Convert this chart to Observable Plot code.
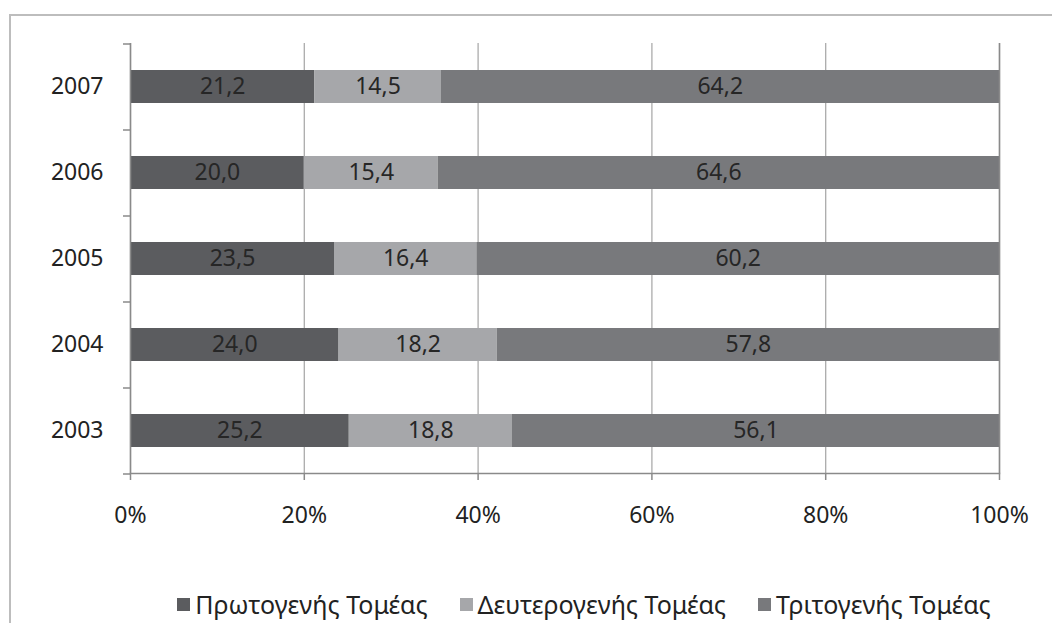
<!DOCTYPE html>
<html>
<head>
<meta charset="utf-8">
<script src="https://cdn.jsdelivr.net/npm/d3@7"></script>
<script src="https://cdn.jsdelivr.net/npm/@observablehq/plot@0.6"></script>
<style>
  html, body { margin: 0; padding: 0; background: #fff; }
  body { width: 1052px; height: 623px; position: relative; overflow: hidden; font-family: "Noto Sans", sans-serif; }
  #frame { position: absolute; left: 9px; top: 14px; width: 1100px; height: 700px; border-left: 2px solid #bdbdbd; border-top: 2px solid #bdbdbd; }
  #chart { position: absolute; left: 0; top: 0; }
  #legend { position: absolute; left: 0; width: 1168px; top: 587px; display: flex; justify-content: center; gap: 32px; font-size: 25px; color: #222; }
  #legend .item { display: flex; align-items: center; gap: 5px; }
  #legend .sw { width: 13px; height: 13px; display: inline-block; }
</style>
</head>
<body>
<div id="frame"></div>
<div id="chart"></div>
<div id="legend"></div>
<script>
const years = ["2007", "2006", "2005", "2004", "2003"];
const sectors = ["Πρωτογενής Τομέας", "Δευτερογενής Τομέας", "Τριτογενής Τομέας"];
const primary   = [21.2, 20.0, 23.5, 24.0, 25.2];
const secondary = [14.5, 15.4, 16.4, 18.2, 18.8];
const tertiary  = [64.2, 64.6, 60.2, 57.8, 56.1];
const xTicks = [0, 0.2, 0.4, 0.6, 0.8, 1];
const colors = ["#5b5c5f", "#a6a7aa", "#78797c"];

const series = [primary, secondary, tertiary];
const data = [];
years.forEach((y, i) => sectors.forEach((s, k) => data.push({year: y, sector: s, value: series[k][i]})));

const W = 1052, H = 540, mt = 43, mb = 67, ml = 130, mr = 53;
const halfStep = (H - mt - mb) / years.length / 2;
const fmt = v => v.toFixed(1).replace(".", ",");

const chart = Plot.plot({
  width: W, height: H,
  marginTop: mt, marginBottom: mb, marginLeft: ml, marginRight: mr,
  style: {fontFamily: "Noto Sans", fontSize: "23px", color: "#222", background: "transparent"},
  x: {domain: [0, 1]},
  y: {domain: years, paddingInner: 0.62, paddingOuter: 0.31},
  color: {domain: sectors, range: colors},
  marks: [
    Plot.gridX(xTicks, {stroke: "#ababab", strokeOpacity: 1, strokeWidth: 1.3}),
    Plot.barX(data, Plot.stackX({x: "value", y: "year", fill: "sector", order: sectors, offset: "normalize"})),
    Plot.text(data, Plot.stackX({x: "value", y: "year", z: "sector", order: sectors, offset: "normalize", text: d => fmt(d.value), fill: "#262626", fontSize: 23})),
    Plot.ruleX([0], {stroke: "#8a8a8a", strokeWidth: 1.5}),
    Plot.ruleX([1], {stroke: "#8a8a8a", strokeWidth: 1.5}),
    Plot.frame({anchor: "bottom", stroke: "#8a8a8a", strokeWidth: 1.5}),
    Plot.axisY({tickSize: 0, tickPadding: 27, fontSize: 23, label: null}),
    Plot.axisY(years, {tickSize: 7, tickFormat: () => "", dy: halfStep, stroke: "#8a8a8a", strokeWidth: 1.5, label: null}),
    Plot.axisY([years[0]], {tickSize: 7, tickFormat: () => "", dy: -halfStep, stroke: "#8a8a8a", strokeWidth: 1.5, label: null}),
    Plot.axisX(xTicks, {tickSize: 7, tickPadding: 26, tickFormat: d3.format(".0%"), fontSize: 23, stroke: "#8a8a8a", strokeWidth: 1.5, label: null})
  ]
});
document.getElementById("chart").appendChild(chart);

const legend = document.getElementById("legend");
sectors.forEach((s, k) => {
  const it = document.createElement("div");
  it.className = "item";
  const sw = document.createElement("span");
  sw.className = "sw";
  sw.style.background = colors[k];
  const t = document.createElement("span");
  t.textContent = s;
  it.appendChild(sw); it.appendChild(t);
  legend.appendChild(it);
});
</script>
</body>
</html>
